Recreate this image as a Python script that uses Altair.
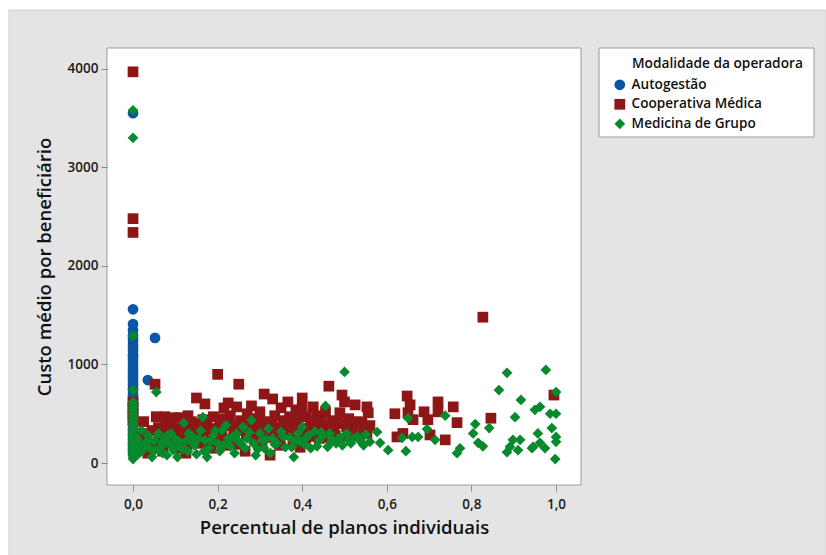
import altair as alt
import pandas as pd

categories = ["Autogestão", "Cooperativa Médica", "Medicina de Grupo"]
colors = ["#0b55a5", "#8e1616", "#078a2c"]
shapes = ["circle", "square", "diamond"]
x_ticks = [0.0, 0.2, 0.4, 0.6, 0.8, 1.0]
y_ticks = [0, 1000, 2000, 3000, 4000]
legend_title = "Modalidade da operadora"

# Autogestão
auto_x = [0.0, 0.0, 0.0, 0.0, 0.0, 0.0, 0.0, 0.0, 0.0, 0.0,
          0.0, 0.0, 0.0, 0.0, 0.0, 0.0, 0.0, 0.0, 0.0, 0.0,
          0.0, 0.0, 0.0, 0.0, 0.0, 0.0, 0.0, 0.0, 0.0, 0.0,
          0.0, 0.0, 0.0, 0.0, 0.0, 0.0, 0.0, 0.0, 0.0, 0.0,
          0.0, 0.0, 0.0, 0.0, 0.0, 0.0, 0.0, 0.0, 0.0, 0.052, 0.035]
auto_y = [3550, 1560, 1410, 1350, 1300, 1270, 1240, 1200, 1170, 1140,
          1100, 1080, 1050, 1020, 990, 960, 930, 900, 870, 850,
          820, 790, 760, 740, 700, 680, 650, 620, 600, 580,
          550, 520, 500, 480, 450, 430, 400, 380, 350, 330,
          300, 280, 250, 230, 200, 180, 150, 130, 100, 1270, 842]

# Cooperativa Médica
coop_x = [0.0, 0.0, 0.0, 0.0, 0.0, 0.0, 0.0,
          0.02, 0.03, 0.035, 0.04, 0.052, 0.055, 0.06, 0.065, 0.07, 0.075,
          0.08, 0.085, 0.09, 0.095, 0.1, 0.105, 0.11, 0.115, 0.12, 0.125,
          0.13, 0.135, 0.14, 0.145, 0.15, 0.155, 0.16, 0.165, 0.17, 0.175,
          0.18, 0.185, 0.19, 0.195, 0.2, 0.205, 0.21, 0.215, 0.22, 0.225,
          0.23, 0.235, 0.24, 0.245, 0.25, 0.255, 0.26, 0.265, 0.27, 0.275,
          0.28, 0.285, 0.29, 0.295, 0.3, 0.305, 0.31, 0.315, 0.32, 0.324,
          0.33, 0.335, 0.34, 0.345, 0.35, 0.355, 0.36, 0.366, 0.37, 0.375,
          0.38, 0.385, 0.39, 0.395, 0.4, 0.4, 0.405, 0.41, 0.415, 0.42,
          0.426, 0.43, 0.435, 0.44, 0.445, 0.45, 0.455, 0.463, 0.47, 0.475,
          0.482, 0.489, 0.494, 0.5, 0.505, 0.51, 0.518, 0.525, 0.53, 0.541,
          0.553, 0.556, 0.553, 0.56, 0.619, 0.624, 0.638, 0.648, 0.65, 0.655,
          0.662, 0.688, 0.697, 0.702, 0.721, 0.721, 0.738, 0.757, 0.766,
          0.827, 0.846, 0.995,
          0.025, 0.045, 0.062, 0.078, 0.088, 0.098, 0.108, 0.118, 0.128, 0.138,
          0.148, 0.158, 0.168, 0.178, 0.188, 0.198, 0.208, 0.218, 0.228, 0.238,
          0.248, 0.258, 0.268, 0.278, 0.288, 0.298, 0.308, 0.318, 0.328, 0.338,
          0.348, 0.358, 0.368, 0.378, 0.388, 0.398, 0.408, 0.418, 0.428, 0.438,
          0.448, 0.458, 0.468, 0.478, 0.488, 0.498, 0.508, 0.52, 0.535, 0.545]
coop_y = [3970, 2480, 2340, 620, 560, 500, 430,
          300, 220, 100, 170, 800, 470, 360, 250, 120, 470,
          330, 200, 420, 280, 350, 150, 460, 260, 380, 100,
          480, 310, 230, 400, 660, 330, 200, 440, 600, 380,
          270, 150, 470, 350, 900, 420, 300, 560, 180, 610,
          480, 380, 250, 570, 800, 430, 330, 120, 500, 380,
          580, 270, 450, 340, 520, 200, 700, 420, 310, 80,
          650, 480, 360, 250, 560, 430, 330, 620, 470, 380,
          280, 540, 440, 160, 660, 560, 350, 470, 270, 400,
          570, 330, 480, 250, 420, 360, 520, 780, 430, 330,
          410, 510, 690, 620, 370, 450, 330, 590, 420, 410,
          570, 510, 300, 380, 500, 265, 300, 680, 510, 590,
          440, 520, 440, 285, 620, 520, 235, 570, 410,
          1480, 455, 690,
          420, 330, 180, 400, 290, 460, 230, 340, 190, 420,
          300, 250, 390, 200, 330, 270, 450, 240, 380, 320,
          190, 360, 280, 420, 230, 380, 300, 260, 410, 330,
          180, 370, 290, 220, 400, 310, 250, 350, 420, 300,
          260, 380, 330, 280, 250, 400, 300, 360, 280, 340]

# Medicina de Grupo
grupo_x = [0.0, 0.0, 0.0, 0.0, 0.0, 0.0, 0.0, 0.0, 0.0, 0.0,
           0.0, 0.0, 0.0, 0.0, 0.0, 0.0, 0.0, 0.0, 0.0, 0.0,
           0.0, 0.0, 0.0, 0.0, 0.0, 0.0, 0.0, 0.0, 0.0,
           0.01, 0.015, 0.02, 0.02, 0.03, 0.035, 0.04, 0.045, 0.05, 0.055,
           0.06, 0.065, 0.07, 0.075, 0.08, 0.085, 0.09, 0.095, 0.1, 0.105,
           0.11, 0.12, 0.125, 0.13, 0.14, 0.145, 0.15, 0.16, 0.165, 0.17,
           0.175, 0.18, 0.19, 0.2, 0.205, 0.21, 0.22, 0.225, 0.23, 0.24,
           0.245, 0.25, 0.26, 0.265, 0.27, 0.28, 0.285, 0.29, 0.3, 0.305,
           0.31, 0.32, 0.325, 0.33, 0.34, 0.35, 0.36, 0.37, 0.38, 0.385,
           0.39, 0.4, 0.405, 0.41, 0.42, 0.43, 0.44, 0.45, 0.455, 0.46,
           0.465, 0.47, 0.48, 0.49, 0.495, 0.5, 0.505, 0.51, 0.52, 0.53,
           0.54, 0.55, 0.56, 0.577, 0.584, 0.603, 0.636, 0.645, 0.65, 0.66,
           0.674, 0.695, 0.714, 0.738, 0.766, 0.773, 0.804, 0.809, 0.816, 0.827,
           0.842, 0.865, 0.884, 0.884, 0.891, 0.898, 0.903, 0.91, 0.915, 0.917,
           0.943, 0.946, 0.95, 0.957, 0.962, 0.962, 0.974, 0.976, 0.986, 0.99,
           1.0, 1.0, 1.0, 1.0, 0.998,
           0.012, 0.025, 0.038, 0.052, 0.068, 0.082, 0.092, 0.108, 0.118, 0.132,
           0.142, 0.155, 0.168, 0.185, 0.195, 0.215, 0.235, 0.255, 0.275, 0.295,
           0.315, 0.335, 0.355, 0.375, 0.395, 0.415, 0.435, 0.445, 0.47, 0.485,
           0.515, 0.535, 0.545]
grupo_y = [3580, 3300, 1290, 740, 620, 590, 560, 530, 500, 470,
           440, 410, 380, 350, 320, 300, 280, 260, 240, 220,
           200, 180, 160, 140, 120, 100, 80, 60, 40,
           250, 180, 120, 330, 210, 280, 150, 60, 230, 720,
           300, 160, 100, 250, 80, 190, 300, 130, 240, 60,
           170, 405, 220, 120, 270, 180, 90, 330, 465, 230,
           60, 150, 280, 200, 120, 330, 385, 250, 170, 100,
           300, 220, 365, 150, 250, 435, 200, 80, 300, 230,
           150, 350, 100, 250, 200, 320, 160, 260, 60, 220,
           300, 365, 190, 260, 150, 320, 230, 280, 580, 165,
           300, 240, 200, 260, 180, 925, 300, 230, 245, 270,
           210, 290, 215, 315, 205, 130, 255, 120, 455, 265,
           265, 345, 235, 480, 100, 150, 300, 395, 205, 170,
           355, 740, 915, 110, 165, 235, 465, 130, 235, 640,
           150, 165, 540, 300, 570, 205, 150, 945, 500, 355,
           720, 500, 265, 215, 40,
           90, 160, 240, 130, 200, 280, 170, 220, 140, 300,
           210, 250, 120, 230, 330, 180, 260, 200, 310, 140,
           240, 190, 270, 160, 220, 280, 170, 310, 220, 250,
           200, 240, 180]

df = pd.DataFrame({
    "x": auto_x + coop_x + grupo_x,
    "y": auto_y + coop_y + grupo_y,
    "Modalidade": [categories[0]] * len(auto_x)
    + [categories[1]] * len(coop_x)
    + [categories[2]] * len(grupo_x),
})

W, H = 474, 437
FONT = "Open Sans"
one = alt.Data(values=[{"k": 0}])

bg = alt.Chart(one).mark_rect(fill="#e4e4e4", stroke="#d0d0d0", strokeWidth=1).encode(
    x=alt.value(-98), x2=alt.value(719), y=alt.value(-38), y2=alt.value(508)
)
frame = alt.Chart(one).mark_rect(fill="white", stroke="#9a9a9a", strokeWidth=1).encode(
    x=alt.value(0), x2=alt.value(W), y=alt.value(0), y2=alt.value(H)
)
lbox = alt.Chart(one).mark_rect(fill="white", stroke="#9a9a9a", strokeWidth=1).encode(
    x=alt.value(492), x2=alt.value(707), y=alt.value(0), y2=alt.value(89)
)
ltitle = alt.Chart(one).mark_text(
    align="left", baseline="middle", font=FONT, fontSize=13.7, color="#111111",
    fontWeight=600,
).encode(x=alt.value(525), y=alt.value(16), text=alt.value(legend_title))

points = alt.Chart(df).mark_point(filled=True, opacity=1, strokeWidth=0).encode(
    x=alt.X("x:Q",
            scale=alt.Scale(domain=[-0.0615, 1.059], nice=False, zero=False),
            axis=alt.Axis(values=x_ticks, title="Percentual de planos individuais",
                          labelExpr="replace(format(datum.value, '.1f'), '.', ',')",
                          titlePadding=8, zindex=2)),
    y=alt.Y("y:Q",
            scale=alt.Scale(domain=[-223, 4212], nice=False, zero=False),
            axis=alt.Axis(values=y_ticks, title="Custo médio por beneficiário",
                          format="d", titlePadding=13, zindex=2)),
    color=alt.Color("Modalidade:N",
                    scale=alt.Scale(domain=categories, range=colors),
                    legend=alt.Legend(title=None,
                                      orient="none", legendX=492, legendY=20)),
    shape=alt.Shape("Modalidade:N",
                    scale=alt.Scale(domain=categories, range=shapes)),
    size=alt.Size("Modalidade:N",
                  scale=alt.Scale(domain=categories, range=[115, 115, 190]),
                  legend=None),
    order=alt.Order("idx:Q"),
).transform_window(idx="row_number()")

chart = alt.layer(bg, frame, lbox, ltitle, points).properties(
    width=W, height=H,
    autosize=alt.AutoSizeParams(type="none"),
    padding={"left": 107, "top": 48, "right": 245, "bottom": 70},
    background="white",
).configure_view(stroke=None).configure_axis(
    domain=False, grid=False,
    labelFont=FONT, titleFont=FONT, labelFontSize=13.5, titleFontSize=18.5,
    labelColor="#1a1a1a", titleColor="#111111", titleFontWeight=600,
    labelFontWeight=600,
    tickColor="#8a8a8a", tickSize=6, labelPadding=3,
).configure_axisX(labelPadding=6).configure_legend(
    fillColor="rgba(0,0,0,0)", strokeColor="rgba(0,0,0,0)", padding=10,
    labelFont=FONT, labelFontSize=13.6, labelFontWeight=600, labelColor="#111111",
    symbolSize=100, symbolStrokeWidth=0, rowPadding=4.5,
    symbolOffset=4, labelOffset=5, zindex=3,
)

chart.save("out.html", embed_options={"renderer": "svg", "actions": False})
